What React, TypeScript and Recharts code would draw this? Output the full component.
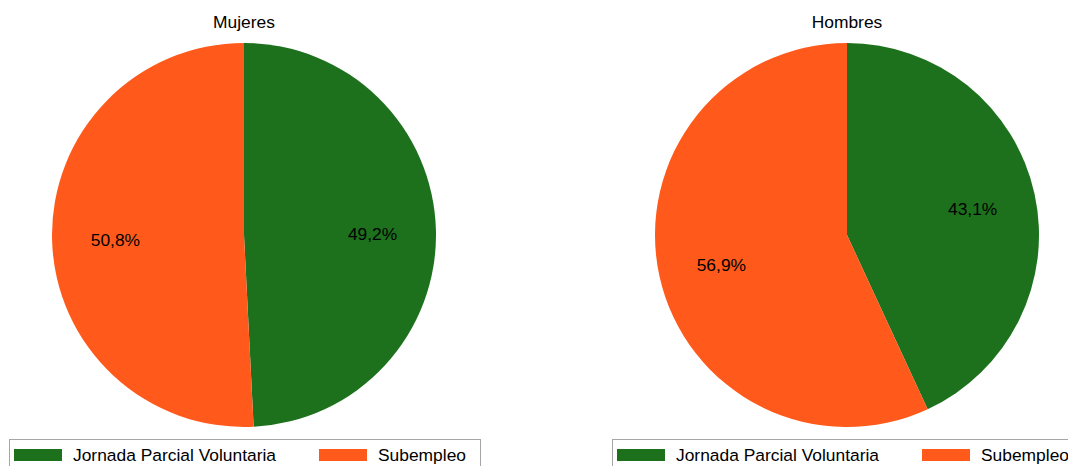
import { PieChart, Pie, Cell } from 'recharts';

const categories = ['Jornada Parcial Voluntaria', 'Subempleo'];
const mujeresValues = [49.2, 50.8];
const hombresValues = [43.1, 56.9];
const panelTitles = ['Mujeres', 'Hombres'];
const colors = ['#1D711D', '#FF5A1B'];

const FONT = '"Liberation Sans", Arial, sans-serif';
const FONT_SIZE = 17.4;
const RADIUS = 192;
const CY = 235;
const panelCenters = [244, 847];

const buildData = (values: number[]) =>
  categories.map((name, i) => ({ name, value: values[i] }));

const renderLabel = (props: any) => {
  const { cx, cy, midAngle, outerRadius, percent } = props;
  const r = outerRadius * 0.67;
  const rad = (Math.PI / 180) * midAngle;
  const x = cx + r * Math.cos(rad);
  const y = cy - r * Math.sin(rad) + 2;
  return (
    <text
      x={x}
      y={y}
      fill="#000"
      fontSize={FONT_SIZE}
      fontFamily={FONT}
      textAnchor="middle"
      dominantBaseline="central"
    >
      {(percent * 100).toFixed(1).replace('.', ',') + '%'}
    </text>
  );
};

const LegendBox = ({ left, width }: { left: number; width: number }) => (
  <div
    style={{
      position: 'absolute',
      left,
      top: 439,
      width,
      height: 40,
      border: '1px solid #a6a6a6',
      boxSizing: 'border-box',
      fontFamily: FONT,
      fontSize: FONT_SIZE,
      color: '#000',
    }}
  >
    {categories.map((c, i) => (
      <div
        key={c}
        style={{
          position: 'absolute',
          left: i === 0 ? 4 : 309,
          top: 8,
          display: 'flex',
          alignItems: 'center',
          whiteSpace: 'nowrap',
        }}
      >
        <span
          style={{
            display: 'inline-block',
            width: 48,
            height: 12,
            background: colors[i],
            marginRight: 11,
          }}
        />
        <span style={{ lineHeight: '14px' }}>{c}</span>
      </div>
    ))}
  </div>
);

const App = () => {
  const datasets = [buildData(mujeresValues), buildData(hombresValues)];
  return (
    <div
      style={{
        position: 'absolute',
        left: 0,
        top: 0,
        width: 1068,
        height: 466,
        background: '#fff',
        overflow: 'hidden',
      }}
    >
      <PieChart
        width={1068}
        height={466}
        margin={{ top: 0, right: 0, bottom: 0, left: 0 }}
        style={{ position: 'absolute', left: 0, top: 0 }}
      >
        {datasets.map((data, k) => (
          <Pie
            key={panelTitles[k]}
            data={data}
            dataKey="value"
            nameKey="name"
            cx={panelCenters[k]}
            cy={CY}
            outerRadius={RADIUS}
            startAngle={90}
            endAngle={-270}
            stroke="none"
            label={renderLabel}
            labelLine={false}
            isAnimationActive={false}
          >
            {data.map((d, i) => (
              <Cell key={d.name} fill={colors[i]} />
            ))}
          </Pie>
        ))}
      </PieChart>
      {panelTitles.map((t, k) => (
        <div
          key={t}
          style={{
            position: 'absolute',
            left: panelCenters[k] - 100,
            width: 200,
            top: 12,
            textAlign: 'center',
            fontFamily: FONT,
            fontSize: FONT_SIZE,
            color: '#000',
          }}
        >
          {t}
        </div>
      ))}
      <LegendBox left={9} width={472} />
      <LegendBox left={612} width={480} />
    </div>
  );
};

export default App;
